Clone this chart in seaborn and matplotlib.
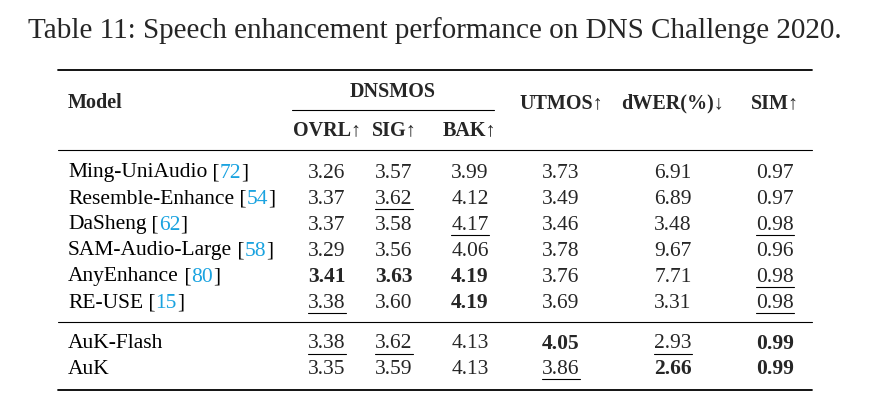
import matplotlib
matplotlib.use("Agg")
import matplotlib.pyplot as plt
import seaborn as sns

sns.set_theme(style="white")
plt.rcParams['font.family'] = ['Liberation Serif', 'DejaVu Serif']

title = "Table 11: Speech enhancement performance on DNS Challenge 2020."
models = ["Ming-UniAudio", "Resemble-Enhance", "DaSheng", "SAM-Audio-Large",
          "AnyEnhance", "RE-USE", "AuK-Flash", "AuK"]
cites = ["72", "54", "62", "58", "80", "15", "", ""]
columns = ["OVRL↑", "SIG↑", "BAK↑", "UTMOS↑", "dWER(%)↓", "SIM↑"]
values = [
    ["3.26", "3.57", "3.99", "3.73", "6.91", "0.97"],
    ["3.37", "3.62", "4.12", "3.49", "6.89", "0.97"],
    ["3.37", "3.58", "4.17", "3.46", "3.48", "0.98"],
    ["3.29", "3.56", "4.06", "3.78", "9.67", "0.96"],
    ["3.41", "3.63", "4.19", "3.76", "7.71", "0.98"],
    ["3.38", "3.60", "4.19", "3.69", "3.31", "0.98"],
    ["3.38", "3.62", "4.13", "4.05", "2.93", "0.99"],
    ["3.35", "3.59", "4.13", "3.86", "2.66", "0.99"],
]
# b = bold, u = underline
styles = [
    ["", "", "", "", "", ""],
    ["", "u", "", "", "", ""],
    ["", "", "u", "", "", "u"],
    ["", "", "", "", "", ""],
    ["b", "b", "b", "", "", "u"],
    ["u", "", "b", "", "", "u"],
    ["u", "u", "", "b", "u", "b"],
    ["", "", "", "u", "b", "b"],
]

col_x = [327, 394, 470, 561, 673, 775]
row_y = [173, 199, 225, 251, 277, 303, 344, 369]
cite_color = "#1aa3e0"
fs = 15.5

fig = plt.figure(figsize=(8.69, 4.08), dpi=100)
ax = fig.add_axes([0, 0, 1, 1])
ax.set_xlim(0, 869)
ax.set_ylim(408, 0)
ax.axis("off")
fig.canvas.draw()
renderer = fig.canvas.get_renderer()


def width(t):
    return t.get_window_extent(renderer=renderer).width


ax.text(434.5, 31, title, fontsize=21, ha="center", va="center")

for y, lw in [(70, 1.3), (150, 0.8), (322, 0.8), (390, 1.3)]:
    ax.plot([58, 812], [y, y], color="black", lw=lw)

ax.text(68, 103, "Model", fontsize=fs - 1, fontweight="bold", va="center")
ax.text(393, 92, "DNSMOS", fontsize=fs - 1, fontweight="bold", ha="center", va="center")
ax.plot([292, 494], [110, 110], color="black", lw=0.8)
for i, c in enumerate(columns):
    y = 130 if i < 3 else 103
    ax.text(col_x[i], y, c, fontsize=fs - 1, fontweight="bold", ha="center", va="center")

for r, (name, cite) in enumerate(zip(models, cites)):
    y = row_y[r]
    x = 68
    parts = [(name, "black")]
    if cite:
        parts += [(" [", "black"), (cite, cite_color), ("]", "black")]
    for s, col in parts:
        t = ax.text(x, y, s, fontsize=fs, va="center", color=col)
        x += width(t)
    for c, v in enumerate(values[r]):
        st = styles[r][c]
        tv = ax.text(col_x[c], y, v, fontsize=fs, ha="center", va="center",
                     fontweight="bold" if st == "b" else "normal")
        if st == "u":
            w = width(tv)
            ax.plot([col_x[c] - w / 2, col_x[c] + w / 2], [y + 10, y + 10],
                    color="black", lw=0.8)

fig.savefig("out.png", dpi=100)
